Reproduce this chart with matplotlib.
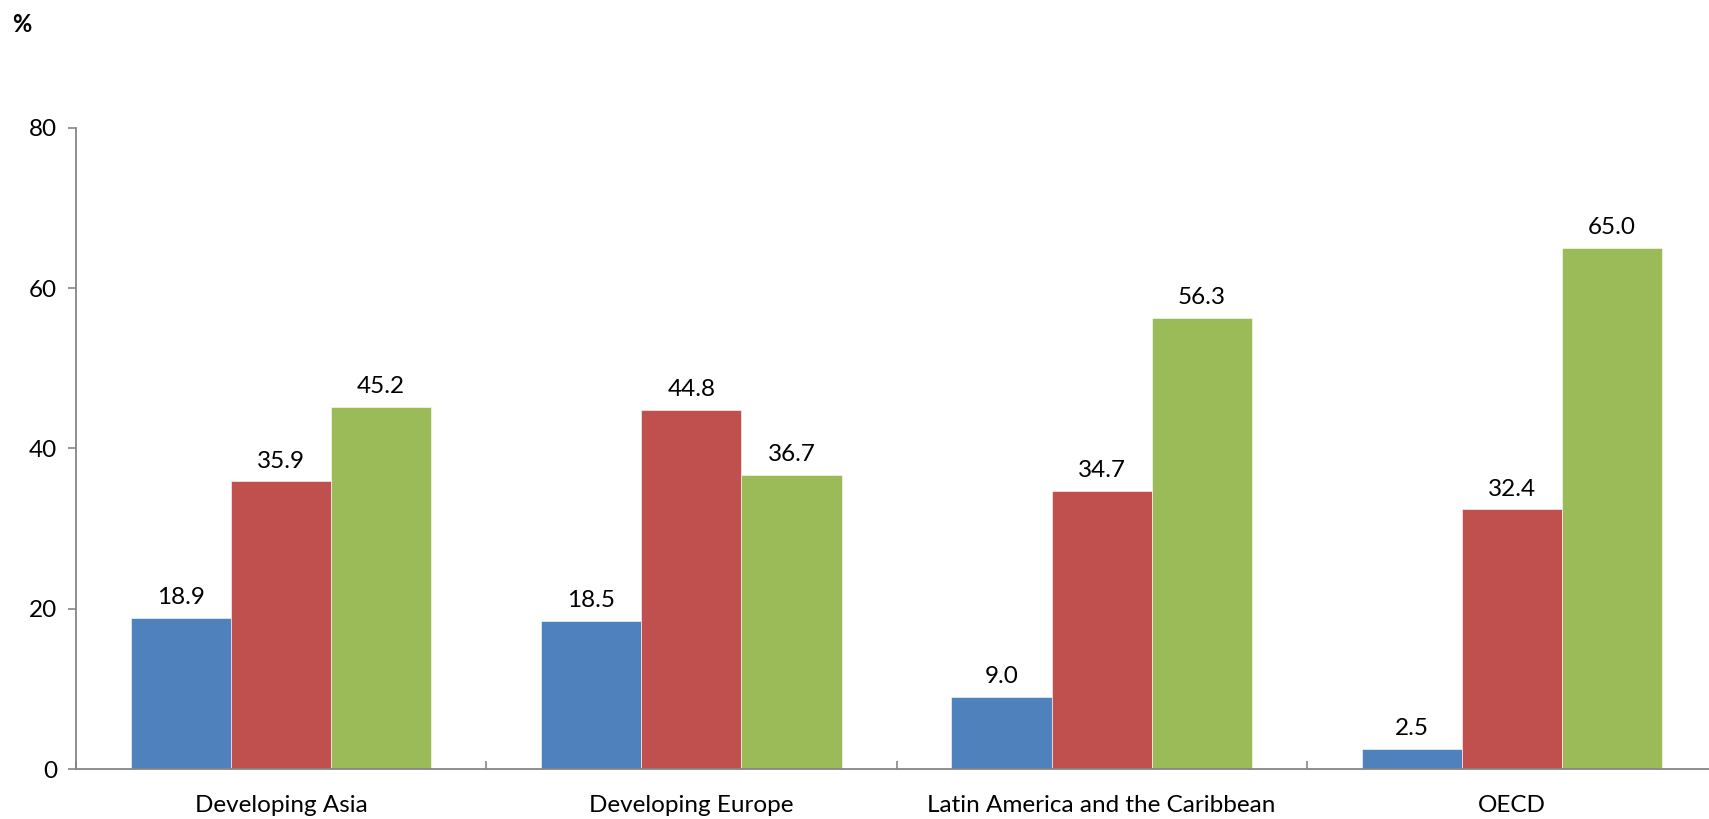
import matplotlib
matplotlib.use("Agg")
import matplotlib.pyplot as plt
import numpy as np

plt.rcParams['font.family'] = ['Lato', 'DejaVu Sans']

categories = ["Developing Asia", "Developing Europe",
              "Latin America and the Caribbean", "OECD"]
series_a = [18.9, 18.5, 9.0, 2.5]
series_b = [35.9, 44.8, 34.7, 32.4]
series_c = [45.2, 36.7, 56.3, 65.0]
yticks = [0, 20, 40, 60, 80]

colors = ["#4F81BD", "#C0504D", "#9BBB59"]

fig = plt.figure(figsize=(17.09, 8.19), dpi=100)
# axes run slightly past the right edge of the canvas
ax = fig.add_axes([76 / 1709, 1 - 769 / 819, 1641 / 1709, (769 - 128) / 819])

x = np.arange(len(categories))
width = 0.244
for i, (vals, col) in enumerate(zip([series_a, series_b, series_c], colors)):
    pos = x + (i - 1) * width
    bars = ax.bar(pos, vals, width=width, color=col, edgecolor="white",
                  linewidth=0.4, zorder=2)
    for b, v in zip(bars, vals):
        ax.annotate(f"{v:.1f}", (b.get_x() + b.get_width() / 2, v),
                    xytext=(0, 7), textcoords="offset points",
                    ha="center", va="bottom", fontsize=17.5, color="black")

ax.set_xlim(-0.5, len(categories) - 0.5)
ax.set_ylim(0, 80)
ax.set_yticks(yticks)
ax.set_yticklabels([str(t) for t in yticks], fontsize=17.5)

# category labels centred, with boundary ticks between groups
ax.set_xticks(x)
ax.set_xticklabels(categories, fontsize=17.5)
ax.tick_params(axis="x", length=0, pad=19)
ax.set_xticks(np.arange(len(categories) + 1) - 0.5, minor=True)
ax.tick_params(axis="x", which="minor", direction="in", length=5.5,
               width=1.2, color="#868686")
ax.tick_params(axis="y", direction="out", length=5.5, width=1.2,
               color="#868686", pad=8)

ax.spines["top"].set_visible(False)
ax.spines["right"].set_visible(False)
for s in ["left", "bottom"]:
    ax.spines[s].set_color("#868686")
    ax.spines[s].set_linewidth(1.3)

fig.text(12 / 1709, 1 - 24 / 819, "%", fontsize=17, fontweight="bold",
         ha="left", va="center")

fig.savefig("out.png", dpi=100)
